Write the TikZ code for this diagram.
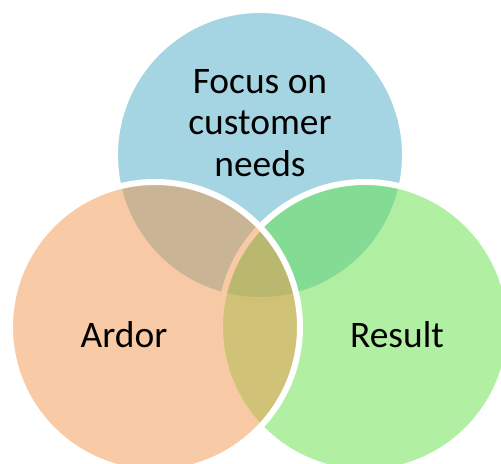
\documentclass[tikz,border=0pt]{standalone}
\usepackage{fontspec}
\setmainfont{Carlito}
\definecolor{needsblue}{RGB}{75,171,197}
\definecolor{ardororange}{RGB}{241,149,75}
\definecolor{resultgreen}{RGB}{99,225,71}
\tikzset{venn/.style={circle,minimum size=5.8cm,inner sep=0pt,fill opacity=0.5,draw=white,line width=3.4pt},
  venntext/.style={font=\fontsize{21.3}{23.5}\selectfont,align=center,text=black}}

\begin{document}
\begin{tikzpicture}
  \useasboundingbox (0,0) rectangle (10.02,9.26);
  \node[venn,fill=needsblue](needs)at(5.2,6.16){};
  \node[venn,fill=resultgreen](result)at(7.3,2.72){};
  \node[venn,fill=ardororange](ardor)at(3.1,2.72){};
  \node[venntext](needstext)at(5.2,6.8){Focus on\\customer\\needs};
  \node[venntext](ardortext)at(2.48,2.56){Ardor};
  \node[venntext](resulttext)at(7.94,2.56){Result};
\end{tikzpicture}
\end{document}
